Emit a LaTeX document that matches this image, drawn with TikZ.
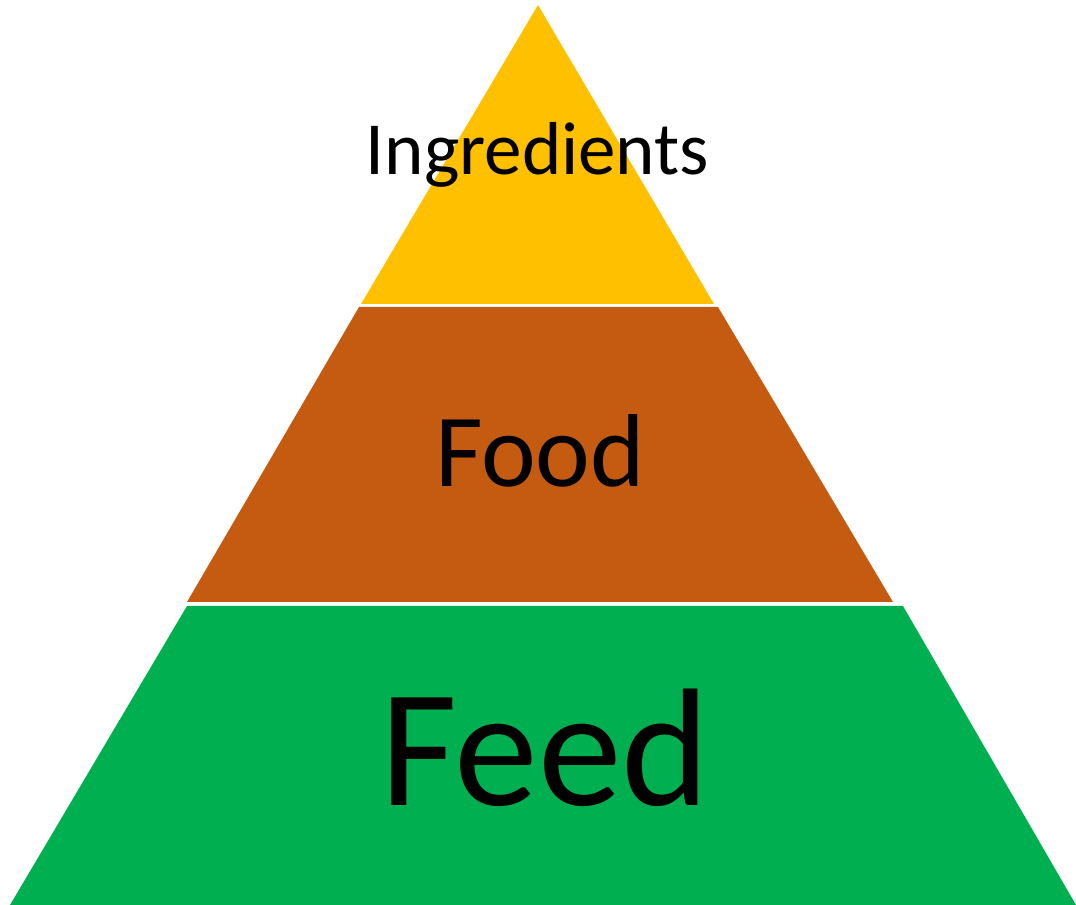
\documentclass[tikz,border=0pt]{standalone}
\usepackage{fontspec}
\setmainfont{Carlito}
\usepackage{xcolor}
\usepackage{tikz}
\usetikzlibrary{positioning}

\definecolor{layertop}{HTML}{FFC000}
\definecolor{layermid}{HTML}{C55A11}
\definecolor{layerbot}{HTML}{00B050}

\begin{document}
\begin{tikzpicture}[x=0.02cm, y=-0.02cm,
    layer/.style={draw=none},
    label/.style={anchor=base, inner sep=0pt, text=black}]
    \useasboundingbox (0,0) rectangle (1076,905);

    % Top layer (triangle)
    \fill[layer, layertop] (538,5) -- (714,304) -- (361,304) -- cycle;
    \node[label, font=\fontsize{42.7}{43}\selectfont] (ingredients) at (537.5,175) {Ingredients};

    % Middle layer
    \fill[layer, layermid] (359,307) -- (718,307) -- (893,602) -- (187,602) -- cycle;
    \node[label, font=\fontsize{59}{59}\selectfont] (food) at (540,487) {Food};

    % Bottom layer
    \fill[layer, layerbot] (187,606) -- (903,606) -- (1076,905) -- (10,905) -- cycle;
    \node[label, font=\fontsize{95.5}{96}\selectfont] (feed) at (545,805) {Feed};
\end{tikzpicture}
\end{document}
